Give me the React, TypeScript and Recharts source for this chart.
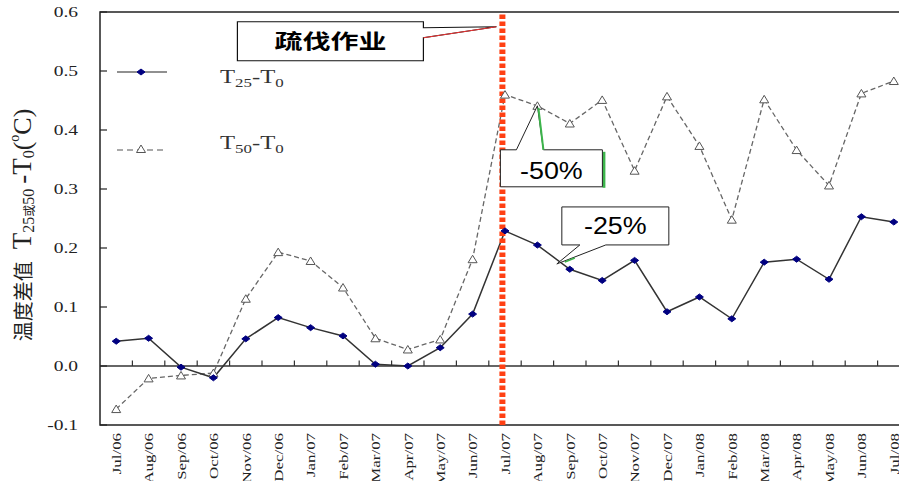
import React from 'react';
import {
  Line,
  LineChart,
  ReferenceArea,
  ReferenceDot,
  ReferenceLine,
  XAxis,
  YAxis,
} from 'recharts';

const months = [
  'Jul/06', 'Aug/06', 'Sep/06', 'Oct/06', 'Nov/06', 'Dec/06', 'Jan/07', 'Feb/07', 'Mar/07',
  'Apr/07', 'May/07', 'Jun/07', 'Jul/07', 'Aug/07', 'Sep/07', 'Oct/07', 'Nov/07', 'Dec/07',
  'Jan/08', 'Feb/08', 'Mar/08', 'Apr/08', 'May/08', 'Jun/08', 'Jul/08',
];

// T25 - T0
const t25 = [
  0.042, 0.047, -0.002, -0.02, 0.046, 0.082, 0.065, 0.051, 0.003, 0.0, 0.031, 0.088, 0.229,
  0.205, 0.164, 0.145, 0.179, 0.092, 0.117, 0.08, 0.176, 0.181, 0.147, 0.253, 0.244,
];

// T50 - T0
const t50 = [
  -0.073, -0.021, -0.016, -0.012, 0.114, 0.193, 0.178, 0.133, 0.047, 0.028, 0.045, 0.181, 0.46,
  0.441, 0.411, 0.451, 0.331, 0.457, 0.373, 0.248, 0.452, 0.366, 0.306, 0.462, 0.483,
];

const yTicks = [-0.1, 0, 0.1, 0.2, 0.3, 0.4, 0.5, 0.6];

const data = months.map((m, i) => ({ i, month: m, t25: t25[i], t50: t50[i] }));
const xTicks = months.map((_, i) => i);
const boundaries = months.slice(1).map((_, i) => i + 0.5);

const SERIF = '"Liberation Serif", "Times New Roman", serif';
const CJK = '"Noto Sans CJK SC", sans-serif';
const SANS = '"Liberation Sans", Arial, sans-serif';

const Diamond = ({ cx, cy }: any) =>
  cx == null ? null : (
    <path
      d={`M${cx - 4},${cy} L${cx},${cy - 3} L${cx + 4},${cy} L${cx},${cy + 3} Z`}
      fill="#000080"
      stroke="#000080"
      strokeWidth={1}
    />
  );

const Triangle = ({ cx, cy }: any) =>
  cx == null ? null : (
    <path
      d={`M${cx - 4.5},${cy + 3.5} L${cx},${cy - 4} L${cx + 4.5},${cy + 3.5} Z`}
      fill="#fff"
      stroke="#555"
      strokeWidth={1}
    />
  );

const XTick = ({ x, y, payload }: any) => (
  <text
    transform={`translate(${x},${y}) rotate(-90) scale(1.25,1)`}
    textAnchor="end"
    dy="0.35em"
    fontFamily={SERIF}
    fontSize={13.5}
    fill="#222"
  >
    {months[payload.value]}
  </text>
);

const YTick = ({ x, y, payload }: any) => (
  <text
    transform={`translate(${x},${y}) scale(1.3,1)`}
    textAnchor="end"
    dy="0.35em"
    fontFamily={SERIF}
    fontSize={15}
    fill="#222"
  >
    {Number(payload.value).toFixed(1)}
  </text>
);

const YLabel = ({ viewBox }: any) => {
  const cx = (viewBox?.x ?? 0) + 22;
  const cy = 225;
  return (
    <text
      transform={`translate(${cx},${cy}) rotate(-90)`}
      textAnchor="middle"
      dominantBaseline="central"
      fill="#222"
    >
      <tspan fontFamily={CJK} fontSize={20}>温度差值</tspan>
      <tspan fontFamily={SERIF} fontSize={27} dx={12}>T</tspan>
      <tspan fontFamily={SERIF} fontSize={16} dy={6}>25</tspan>
      <tspan fontFamily={CJK} fontSize={12}>或</tspan>
      <tspan fontFamily={SERIF} fontSize={16}>50</tspan>
      <tspan fontFamily={SERIF} fontSize={27} dy={-6} dx={5}>-T</tspan>
      <tspan fontFamily={SERIF} fontSize={16} dy={6}>0</tspan>
      <tspan fontFamily={SERIF} fontSize={26} dy={-6}>(</tspan>
      <tspan fontFamily={SERIF} fontSize={14} dy={-8}>o</tspan>
      <tspan fontFamily={SERIF} fontSize={26} dy={8}>C)</tspan>
    </text>
  );
};

const LegendBox = () => (
  <svg width={200} height={110} style={{ display: 'block' }}>
    <line x1={7} x2={57} y1={17} y2={17} stroke="#222" strokeWidth={1.2} />
    <Diamond cx={31} cy={17} />
    <text
      transform="translate(110,28) scale(1.3,1)"
      fontFamily={SERIF}
      fontSize={19}
      fill="#333"
    >
      T<tspan fontSize={13} dy={4}>25</tspan>
      <tspan dy={-4}>-T</tspan>
      <tspan fontSize={13} dy={4}>0</tspan>
    </text>
    <line x1={7} x2={57} y1={95} y2={95} stroke="#555" strokeWidth={1.2} strokeDasharray="6 4" />
    <Triangle cx={31} cy={94} />
    <text
      transform="translate(110,94) scale(1.3,1)"
      fontFamily={SERIF}
      fontSize={19}
      fill="#333"
    >
      T<tspan fontSize={13} dy={4}>50</tspan>
      <tspan dy={-4}>-T</tspan>
      <tspan fontSize={13} dy={4}>0</tspan>
    </text>
  </svg>
);

// callout for the thinning operation, pointing at the red line
const ThinningCallout = ({ cx, cy }: any) => {
  if (cx == null) return null;
  const x1 = cx - 265;
  const x2 = cx - 79;
  const y1 = cy - 5;
  const y2 = cy + 34;
  return (
    <g>
      <path
        d={`M${x1},${y1} H${x2} V${cy + 1} L${cx - 6},${cy} L${x2},${cy + 11} V${y2} H${x1} Z`}
        fill="#fff"
        stroke="#111"
        strokeWidth={1.2}
      />
      <line x1={x2} y1={cy + 11} x2={cx - 6} y2={cy} stroke="#e33" strokeWidth={1} />
      <text
        transform={`translate(${(x1 + x2) / 2},${cy + 22}) scale(1.4,1)`}
        textAnchor="middle"
        fontFamily={CJK}
        fontWeight="bold"
        fontSize={20}
        fill="#000"
      >
        疏伐作业
      </text>
    </g>
  );
};

const Callout50 = ({ cx, cy }: any) => {
  if (cx == null) return null;
  const x1 = cx - 37;
  const x2 = cx + 65;
  const y1 = cy + 44;
  const y2 = cy + 81;
  return (
    <g>
      <rect x={x2} y={y1 + 2} width={3} height={y2 - y1 - 1} fill="#3cb44b" />
      <path
        d={`M${x1},${y1} H${cx - 21} L${cx},${cy} L${cx + 6},${y1} H${x2} V${y2} H${x1} Z`}
        fill="#fff"
        stroke="#222"
        strokeWidth={1}
      />
      <line x1={cx + 1} y1={cy + 2} x2={cx + 6} y2={y1} stroke="#3cb44b" strokeWidth={2} />
      <text
        transform={`translate(${(x1 + x2) / 2},${y2 - 8}) scale(1.12,1)`}
        textAnchor="middle"
        fontFamily={SANS}
        fontSize={24}
        fill="#000"
      >
        -50%
      </text>
    </g>
  );
};

const Callout25 = ({ cx, cy }: any) => {
  if (cx == null) return null;
  const x1 = cx + 5;
  const x2 = cx + 112;
  const y1 = cy - 57;
  const y2 = cy - 19;
  return (
    <g>
      <path
        d={`M${x1},${y1} H${x2} V${y2} H${cx + 49} L${cx},${cy} L${cx + 23},${y2} H${x1} Z`}
        fill="#fff"
        stroke="#222"
        strokeWidth={1}
      />
      <line x1={cx + 8} y1={cy - 2} x2={cx + 18} y2={cy - 6} stroke="#3cb44b" strokeWidth={1.5} />
      <text
        transform={`translate(${(x1 + x2) / 2},${y2 - 11}) scale(1.12,1)`}
        textAnchor="middle"
        fontFamily={SANS}
        fontSize={24}
        fill="#000"
      >
        -25%
      </text>
    </g>
  );
};

export default function App() {
  return (
    <div
      style={{
        position: 'fixed',
        left: 0,
        top: 0,
        width: 899,
        height: 481,
        overflow: 'hidden',
        background: '#fff',
      }}
    >
      <LineChart
        width={920}
        height={481}
        data={data}
        margin={{ top: 12, right: 10, bottom: 0, left: 0 }}
      >
        <XAxis
          type="number"
          dataKey="i"
          domain={[-0.5, 24.5]}
          ticks={xTicks}
          interval={0}
          axisLine={false}
          tickLine={false}
          tickSize={0}
          tickMargin={8}
          height={56}
          tick={<XTick />}
        />
        <YAxis
          domain={[-0.1, 0.6]}
          ticks={yTicks}
          interval={0}
          width={100}
          axisLine={false}
          tickLine={{ stroke: '#222', strokeWidth: 1.2 }}
          tickSize={-7}
          tickMargin={29}
          tick={<YTick />}
          label={{ content: (p: any) => <YLabel viewBox={p.viewBox} /> }}
        />
        <ReferenceArea
          x1={-0.5}
          x2={24.5}
          y1={-0.1}
          y2={0.6}
          fill="none"
          stroke="#222"
          strokeWidth={1.5}
          ifOverflow="visible"
        />
        <ReferenceLine y={0} stroke="#333" strokeWidth={1.5} />
        {boundaries.map((b) => (
          <ReferenceLine
            key={b}
            segment={[
              { x: b, y: 0 },
              { x: b, y: 0.0095 },
            ]}
            stroke="#333"
            strokeWidth={1.2}
          />
        ))}
        <Line
          dataKey="t50"
          stroke="#666"
          strokeWidth={1.3}
          strokeDasharray="5 3"
          dot={<Triangle />}
          isAnimationActive={false}
        />
        <Line
          dataKey="t25"
          stroke="#333"
          strokeWidth={1.5}
          dot={<Diamond />}
          isAnimationActive={false}
        />
        <ReferenceDot x={13} y={0.441} shape={<Callout50 />} ifOverflow="visible" />
        <ReferenceDot x={13.6} y={0.173} shape={<Callout25 />} ifOverflow="visible" />
        <ReferenceLine
          x={11.92}
          stroke="#ff4013"
          strokeWidth={6}
          strokeDasharray="4.5 2.5"
        />
        <ReferenceDot x={11.92} y={0.575} shape={<ThinningCallout />} ifOverflow="visible" />
      </LineChart>
      <div style={{ position: 'absolute', left: 110, top: 55 }}>
        <LegendBox />
      </div>
    </div>
  );
}
